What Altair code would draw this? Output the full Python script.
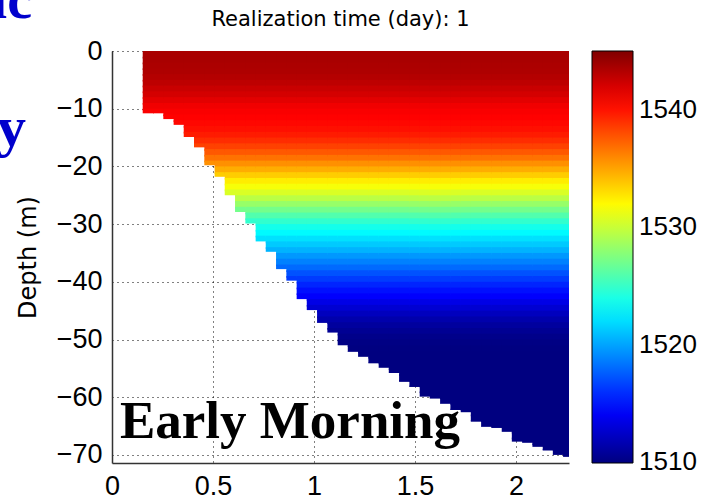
import altair as alt
import pandas as pd

# ---- data ----
# range grid (km): column edges of the section
range_edges = [0.152, 0.203, 0.254, 0.305, 0.355, 0.406, 0.457, 0.508, 0.558, 0.609,
               0.660, 0.711, 0.761, 0.812, 0.863, 0.914, 0.964, 1.015, 1.066, 1.117,
               1.167, 1.218, 1.269, 1.320, 1.370, 1.421, 1.472, 1.523, 1.573, 1.624,
               1.675, 1.726, 1.776, 1.827, 1.878, 1.929, 1.979, 2.030, 2.081, 2.132,
               2.182, 2.233, 2.262]
# water depth (m) of every range column (sea floor)
bottom_depth = [10.8, 10.8, 11.8, 12.8, 14.9, 16.7, 19.8, 21.8, 25.0, 27.9,
                29.9, 33.0, 34.8, 37.8, 39.8, 43.0, 44.9, 47.1, 48.8, 51.0,
                52.1, 53.0, 54.1, 54.9, 55.8, 57.3, 58.2, 59.9, 60.2, 61.1,
                62.2, 62.6, 64.2, 65.1, 65.3, 66.0, 67.7, 67.9, 68.6, 69.2,
                70.0, 70.3]
# depth levels (m, top of each 1 m layer) and sound speed (m/s)
depth_levels = list(range(72))
sound_speed = [1543.6, 1543.6, 1543.5, 1543.4, 1543.2, 1542.9, 1542.5, 1542.1, 1541.6, 1541.1,
               1540.8, 1540.6, 1540.4, 1540.1, 1539.7, 1539.1, 1538.4, 1537.6, 1536.7, 1535.7,
               1534.7, 1533.6, 1532.5, 1531.6, 1530.6, 1529.5, 1528.3, 1527.1, 1525.9, 1524.8,
               1523.8, 1523.0, 1522.1, 1521.3, 1520.5, 1519.6, 1518.8, 1518.0, 1517.2, 1516.4,
               1515.6, 1514.9, 1514.3, 1513.5, 1512.8, 1512.1, 1511.5, 1511.0, 1510.6, 1510.3,
               1510.1, 1510.0, 1509.9, 1509.9, 1509.8, 1509.8, 1509.7, 1509.7, 1509.6, 1509.6,
               1509.5, 1509.5, 1509.4, 1509.4, 1509.4, 1509.3, 1509.3, 1509.3, 1509.2, 1509.2,
               1509.2, 1509.1]

x_ticks = [0, 0.5, 1, 1.5, 2]
y_ticks = [-70, -60, -50, -40, -30, -20, -10, 0]
cbar_ticks = [1510, 1520, 1530, 1540]
title_text = ["Realization time (day): 1"]
overlay_text = ["Early Morning"]
cut_text_top = ["ic"]
cut_text_mid = ["y"]

# jet colormap stops
jet_domain = [1509.95, 1514.375, 1523.125, 1531.875, 1540.625, 1545]
jet_range = ["#000080", "#0000ff", "#00ffff", "#ffff00", "#ff0000", "#800000"]

# ---- build cells (water column only) ----
# each cell is drawn slightly into its lower / right neighbour, which is drawn
# afterwards and covers the overlap; this hides anti-aliasing seams
DZ_OVER, DR_OVER = 0.3, 0.005
rows = []
last = len(bottom_depth) - 1
for k, b in enumerate(bottom_depth):
    r0, r1 = range_edges[k], range_edges[k + 1]
    r1_draw = r1 + DR_OVER if k < last else r1
    for d, c in zip(depth_levels, sound_speed):
        if d >= b:
            break
        rows.append({"r0": r0, "r1": r1_draw, "z0": -d,
                     "z1": -min(d + 1 + DZ_OVER, b), "c": c})
cells = pd.DataFrame(rows)

color_scale = alt.Scale(domain=jet_domain, range=jet_range, clamp=True, interpolate="rgb")
cbar = alt.Legend(type="gradient", orient="none", legendX=480, legendY=0,
                  direction="vertical", format="d",
                  gradientLength=412, gradientThickness=41,
                  gradientStrokeColor="black", gradientStrokeWidth=1,
                  labelFont="Liberation Sans", labelFontSize=26,
                  labelColor="black", labelOffset=6, labelBaseline="middle",
                  labelOverlap=False, values=cbar_ticks, title=None)

x_axis = alt.Axis(values=x_ticks, format="~g", grid=True, gridDash=[1, 4], gridColor="black",
                  gridOpacity=1, gridWidth=1, ticks=False, domainColor="#333333", domainWidth=1.5,
                  labelFont="Liberation Sans", labelFontSize=27, labelColor="black",
                  labelPadding=10, labelFlush=False, labelOverlap=False, title=None)
y_axis = alt.Axis(values=y_ticks, format="d", grid=True, gridDash=[1, 4], gridColor="black",
                  gridOpacity=1, gridWidth=1, ticks=False, domainColor="#333333", domainWidth=1.5,
                  labelFont="Liberation Sans", labelFontSize=27, labelColor="black",
                  labelPadding=10, labelFlush=False, labelOverlap=False,
                  title="Depth (m)", titleFont="DejaVu Sans", titleFontSize=24,
                  titleFontWeight="normal", titleColor="black", titleAngle=-90,
                  titleBaseline="middle", titleAlign="center", titleX=-84, titleY=206)

heat = alt.Chart(cells).mark_rect().encode(
    x=alt.X("r0:Q", scale=alt.Scale(domain=[0, 2.262], nice=False, zero=False), axis=x_axis),
    x2="r1:Q",
    y=alt.Y("z0:Q", scale=alt.Scale(domain=[-71.4, 0], nice=False, zero=False), axis=y_axis),
    y2="z1:Q",
    color=alt.Color("c:Q", scale=color_scale, legend=cbar),
)

title = alt.Chart(pd.DataFrame({"t": title_text})).mark_text(
    font="DejaVu Sans", fontSize=21, align="center", baseline="alphabetic", color="black"
).encode(x=alt.value(228.5), y=alt.value(-25), text="t:N")

morning = alt.Chart(pd.DataFrame({"t": overlay_text})).mark_text(
    font="Liberation Serif", fontWeight="bold", fontSize=53, align="left",
    baseline="alphabetic", color="black"
).encode(x=alt.value(8), y=alt.value(387), text="t:N")

cut1 = alt.Chart(pd.DataFrame({"t": cut_text_top})).mark_text(
    font="Liberation Serif", fontWeight="bold", fontSize=56, align="right",
    baseline="alphabetic", color="#0000cc"
).encode(x=alt.value(-80), y=alt.value(-33), text="t:N")

cut2 = alt.Chart(pd.DataFrame({"t": cut_text_mid})).mark_text(
    font="Liberation Serif", fontWeight="bold", fontSize=58, align="right",
    baseline="alphabetic", color="#0000cc"
).encode(x=alt.value(-86), y=alt.value(95), text="t:N")

chart = alt.layer(heat, title, morning, cut1, cut2).properties(
    width=457, height=412,
    autosize=alt.AutoSizeParams(type="none"),
    padding={"left": 112, "top": 51, "right": 137, "bottom": 41},
    background="white",
).configure_view(strokeWidth=0)

chart.save("out.html", embed_options={"renderer": "svg", "actions": False})
